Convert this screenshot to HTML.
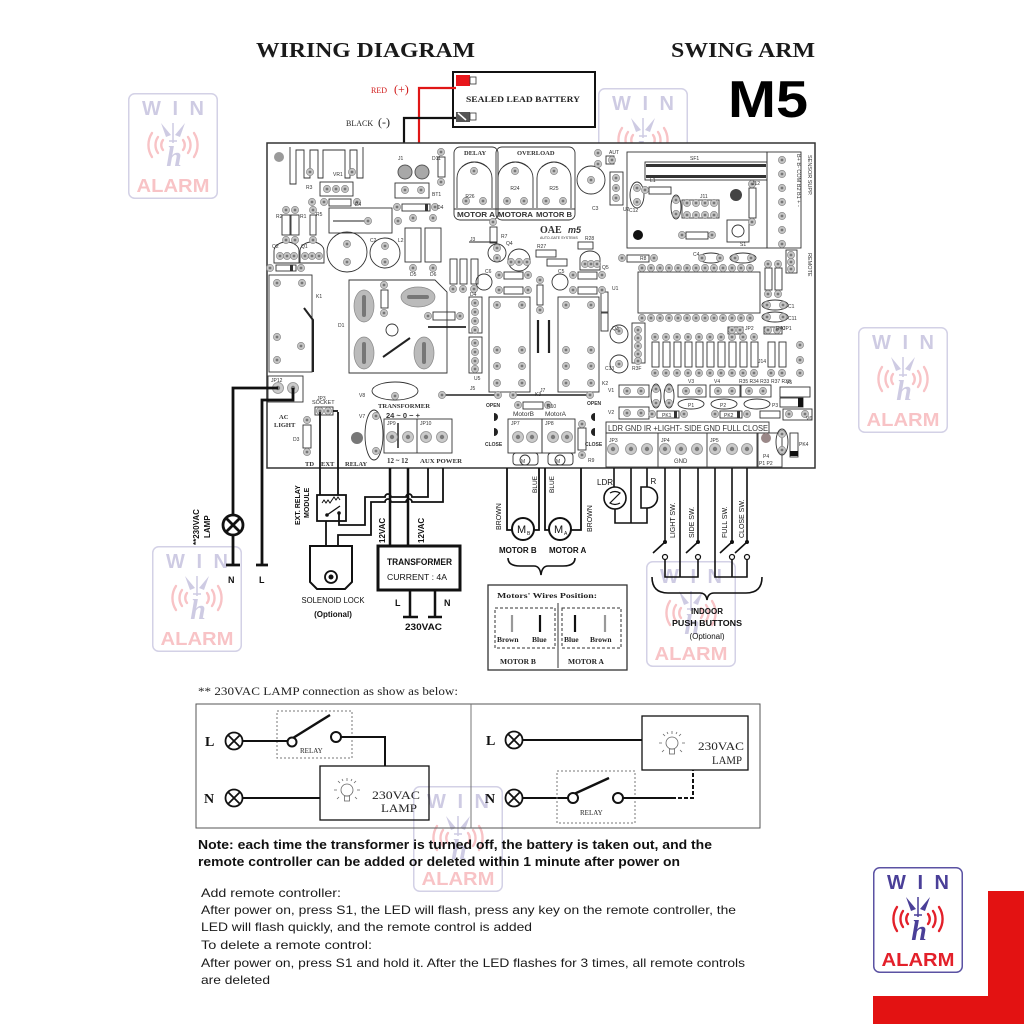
<!DOCTYPE html>
<html><head><meta charset="utf-8"><style>
html,body{margin:0;padding:0;background:#fff;}
svg{display:block;}
.t{font-family:"Liberation Sans",sans-serif;}
.s{font-family:"Liberation Serif",serif;}
</style></head><body>
<svg width="1024" height="1024" viewBox="0 0 1024 1024" xmlns="http://www.w3.org/2000/svg">
<defs>
 <g id="pad"><circle r="3.6" fill="#c6c6c6" stroke="#8a8a8a" stroke-width="0.7"/><circle r="1.4" fill="#777"/></g>
 <g id="bp"><circle r="5.5" fill="#cacaca" stroke="#909090" stroke-width="0.8"/><circle r="2.2" fill="#7a7a7a"/></g>
 <g id="logo">
  <rect x="0.75" y="0.75" width="88.5" height="104.5" rx="6" fill="#fff" stroke="#5b52a3" stroke-width="1.5"/>
  <text x="45" y="22" text-anchor="middle" font-family="Liberation Sans,sans-serif" font-weight="bold" font-size="20" fill="#4a3f98" textLength="62" lengthAdjust="spacing">WIN</text>
  <g fill="none" stroke="#e3202a" stroke-width="2.4" stroke-linecap="round">
   <path d="M24,40 A22,22 0 0 0 24,64"/><path d="M30,44 A14,14 0 0 0 30,60"/><path d="M35,47 A8,8 0 0 0 35,57"/>
   <path d="M66,40 A22,22 0 0 1 66,64"/><path d="M60,44 A14,14 0 0 1 60,60"/><path d="M55,47 A8,8 0 0 1 55,57"/>
  </g>
  <path d="M33,30 L43,42 L38,44 Z M57,30 L47,42 L52,44 Z" fill="#4a3f98"/>
  <path d="M45,30 L45,50 M41,48 L49,48" stroke="#4a3f98" stroke-width="1.5" fill="none"/>
  <text x="46" y="73" text-anchor="middle" font-family="Liberation Serif,serif" font-style="italic" font-weight="bold" font-size="28" fill="#4a3f98">h</text>
  <text x="45" y="99" text-anchor="middle" font-family="Liberation Sans,sans-serif" font-weight="bold" font-size="18" fill="#e3202a" textLength="73" lengthAdjust="spacingAndGlyphs">ALARM</text>
 </g>
 <g id="bulb" stroke="#666" stroke-width="0.8" fill="none">
  <circle cx="0" cy="-3" r="6"/><rect x="-2.5" y="3" width="5" height="5"/>
  <path d="M0,-12 V-15 M7,-10 L9,-12 M-7,-10 L-9,-12 M10,-3 H13 M-10,-3 H-13 M8,4 L10,6 M-8,4 L-10,6 M4,-12 L5,-14 M-4,-12 L-5,-14"/>
 </g>
 <g id="otimes" fill="none" stroke="#111" stroke-width="1.8">
  <circle r="8.5"/><path d="M-6,-6 L6,6 M6,-6 L-6,6"/>
 </g>
</defs>

<rect width="1024" height="1024" fill="#fff"/>

<!-- watermarks -->
<g opacity="0.27">
 <use href="#logo" x="128" y="93"/>
 <use href="#logo" x="598" y="88"/>
 <use href="#logo" x="858" y="327"/>
 <use href="#logo" x="152" y="546"/>
 <use href="#logo" x="646" y="561"/>
 <use href="#logo" x="413" y="786"/>
</g>

<!-- titles -->
<text x="256" y="57" class="s" font-weight="bold" font-size="21" fill="#1a1a1a" textLength="219" lengthAdjust="spacingAndGlyphs">WIRING DIAGRAM</text>
<text x="671" y="57" class="s" font-weight="bold" font-size="21" fill="#1a1a1a" textLength="144" lengthAdjust="spacingAndGlyphs">SWING ARM</text>
<text x="728" y="117" class="t" font-weight="bold" font-size="52" fill="#000" textLength="80" lengthAdjust="spacingAndGlyphs">M5</text>

<!-- battery -->
<rect x="453" y="72" width="142" height="55" fill="#fff" stroke="#111" stroke-width="2"/>
<rect x="456" y="75" width="14" height="11" fill="#e8161b"/>
<rect x="470" y="77" width="6" height="7" fill="none" stroke="#333" stroke-width="0.8"/>
<text x="466" y="102" class="s" font-weight="bold" font-size="8" fill="#222" textLength="114" lengthAdjust="spacingAndGlyphs">SEALED LEAD BATTERY</text>
<rect x="456" y="112" width="14" height="10" fill="#555"/>
<path d="M458,113 L466,120" stroke="#fff" stroke-width="1.5"/>
<rect x="470" y="113" width="6" height="7" fill="none" stroke="#333" stroke-width="0.8"/>
<text x="371" y="93" class="s" font-size="8" fill="#d01818">RED</text>
<text x="394" y="93" class="s" font-size="12" fill="#d01818">(+)</text>
<text x="346" y="126" class="s" font-size="8" fill="#222">BLACK</text>
<text x="378" y="126" class="s" font-size="12" fill="#222">(-)</text>
<path d="M456,88 H419 V166" fill="none" stroke="#e01616" stroke-width="2.2"/>
<path d="M456,118 H404 V166" fill="none" stroke="#111" stroke-width="2.2"/>

<!-- PCB -->
<rect x="267" y="143" width="548" height="325" fill="#fff" stroke="#333" stroke-width="1.5"/>
<g stroke="#333" stroke-width="0.9" fill="none">
 <!-- heatsink -->
 <path d="M290,147 V184 H296 V150 H304 V178 H310 V150 H318 V178 H323 V150 H345 V178 H350 V150 H357 V178 H363 V147"/>
 <rect x="320" y="182" width="33" height="14"/>
 <rect x="329" y="199" width="22" height="7"/>
 <rect x="282" y="215" width="8" height="20"/><rect x="291" y="215" width="8" height="20"/>
 <rect x="310" y="215" width="6" height="20"/>
 <rect x="329" y="208" width="63" height="25"/>
 <rect x="395" y="183" width="34" height="15"/>
 <rect x="438" y="157" width="7" height="20"/>
 <rect x="402" y="204" width="28" height="7"/>
 <rect x="405" y="228" width="16" height="34"/><rect x="425" y="228" width="16" height="34"/>
 <path d="M274,263 V251 A12.5,9 0 0 1 299,251 V263 Z"/>
 <path d="M300,263 V251 A12,9 0 0 1 324,251 V263 Z"/>
 <rect x="276" y="265" width="20" height="6"/>
 <circle cx="347" cy="252" r="20"/>
 <circle cx="385" cy="253" r="15"/>
 <rect x="269" y="275" width="43" height="97"/>
 <rect x="268" y="376" width="35" height="26"/>
 <path d="M349,280 H435 L447,292 V373 H349 Z"/>
 <rect x="381" y="290" width="7" height="18"/>
 <circle cx="392" cy="330" r="6"/>
 <rect x="433" y="312" width="22" height="8"/>
 <rect x="469" y="297" width="13" height="36"/><rect x="469" y="337" width="13" height="36"/>
 <rect x="489" y="297" width="41" height="95"/>
 <rect x="558" y="297" width="41" height="95"/>
 <circle cx="497" cy="253" r="9"/>
 <rect x="490" y="227" width="7" height="16"/>
 <rect x="450" y="259" width="7" height="25"/><rect x="460" y="259" width="7" height="25"/><rect x="471" y="259" width="7" height="25"/>
 <circle cx="519" cy="260" r="11"/>
 <rect x="536" y="250" width="20" height="7"/><rect x="547" y="259" width="20" height="7"/><rect x="578" y="242" width="15" height="7"/>
 <path d="M580,270 V259 A10,8 0 0 1 600,259 V270 Z"/>
 <circle cx="484" cy="282" r="8"/><circle cx="560" cy="282" r="8"/>
 <rect x="504" y="272" width="19" height="7"/><rect x="504" y="287" width="19" height="7"/>
 <rect x="578" y="272" width="19" height="7"/><rect x="578" y="287" width="19" height="7"/>
 <rect x="537" y="285" width="6" height="20"/>
 <rect x="601" y="292" width="7" height="20"/><rect x="601" y="313" width="7" height="18"/>
 <circle cx="619" cy="334" r="9"/><circle cx="619" cy="364" r="9"/>
 <rect x="632" y="323" width="13" height="40"/>
 <rect x="638" y="272" width="122" height="41"/>
 <rect x="627" y="255" width="22" height="7"/>
 <ellipse cx="711" cy="258" rx="12" ry="5"/><ellipse cx="743" cy="258" rx="13" ry="5"/>
 <rect x="627" y="152" width="140" height="96"/>
 <rect x="645" y="162" width="122" height="18"/>
 <rect x="649" y="187" width="22" height="7"/>
 <ellipse cx="676" cy="207" rx="5" ry="12"/>
 <rect x="682" y="200" width="37" height="18"/>
 <rect x="749" y="188" width="7" height="30"/>
 <rect x="727" y="220" width="22" height="22"/><circle cx="738" cy="231" r="6"/>
 <rect x="686" y="232" width="22" height="7"/>
 <rect x="767" y="152" width="34" height="96"/>
 <rect x="786" y="250" width="11" height="23"/>
 <rect x="765" y="268" width="7" height="22"/><rect x="775" y="268" width="7" height="22"/>
 <ellipse cx="775" cy="305" rx="13" ry="5"/><ellipse cx="775" cy="317" rx="13" ry="5"/>
 <rect x="728" y="327" width="15" height="7"/><rect x="764" y="327" width="18" height="7"/>
 <circle cx="591" cy="180" r="14"/>
 <rect x="606" y="156" width="8" height="8"/>
 <rect x="610" y="172" width="13" height="33"/>
 <ellipse cx="637" cy="195" rx="7" ry="13"/>
 <!-- DELAY / OVERLOAD -->
 <rect x="454" y="147" width="44" height="73" rx="6"/>
 <rect x="496" y="147" width="79" height="73" rx="6"/>
 <path d="M457,208 V178 A17.5,16 0 0 1 492,178 V208"/>
 <path d="M498,208 V178 A17.5,16 0 0 1 533,178 V208"/>
 <path d="M537,208 V178 A17,16 0 0 1 571,178 V208"/>
 <path d="M462,167 Q474,157 487,167 M503,167 Q515,157 528,167 M542,167 Q554,157 566,167"/>
 <path d="M454,209 H575"/>
 <!-- bottom area -->
 <ellipse cx="395" cy="391" rx="23" ry="9"/>
 <ellipse cx="374" cy="435" rx="9" ry="25"/>
 <rect x="303" y="425" width="8" height="23"/>
 <rect x="315" y="407" width="18" height="8"/>
 <rect x="384" y="419" width="68" height="34"/><path d="M417,419 V453"/>
 <rect x="523" y="402" width="20" height="7"/>
 <rect x="508" y="419" width="34" height="34"/><rect x="542" y="419" width="33" height="34"/>
 <rect x="513" y="453" width="25" height="12" rx="3"/><rect x="548" y="453" width="25" height="12" rx="3"/>
 <circle cx="525" cy="460" r="5"/><circle cx="560" cy="460" r="5"/>
 <rect x="578" y="428" width="8" height="22"/>
 <rect x="619" y="385" width="30" height="12"/><rect x="619" y="407" width="30" height="12"/>
 <ellipse cx="656" cy="396" rx="5" ry="12"/><ellipse cx="669" cy="396" rx="5" ry="12"/>
 <rect x="678" y="385" width="28" height="12"/><rect x="710" y="385" width="30" height="12"/><rect x="741" y="385" width="30" height="12"/>
 <ellipse cx="691" cy="404" rx="13" ry="5"/><ellipse cx="724" cy="404" rx="13" ry="5"/><ellipse cx="757" cy="404" rx="13" ry="5"/>
 <rect x="657" y="411" width="22" height="7"/><rect x="720" y="411" width="22" height="7"/><rect x="760" y="411" width="20" height="7"/>
 <rect x="780" y="387" width="30" height="10"/><rect x="780" y="398" width="23" height="9"/><rect x="783" y="409" width="29" height="11"/>
 <rect x="606" y="422" width="163" height="11"/>
 <rect x="606" y="433" width="152" height="34"/><path d="M658,433 V467 M707,433 V467"/>
 <rect x="757" y="433" width="25" height="34"/>
 <ellipse cx="782" cy="442" rx="6" ry="13"/>
 <rect x="790" y="433" width="8" height="24"/>
 <rect x="275" y="233" width="12" height="0"/>
</g>
<!-- fills / dark bits on PCB -->
<g fill="#333">
 <circle cx="279" cy="157" r="5" fill="#9a9a9a"/>
 <circle cx="405" cy="172" r="7" fill="#a8a8a8" stroke="#555"/>
 <circle cx="422" cy="172" r="7" fill="#a8a8a8" stroke="#555"/>
 <rect x="425" y="204" width="3" height="7"/>
 <rect x="290" y="265" width="3" height="6"/>
 <circle cx="736" cy="195" r="6" fill="#444"/>
 <circle cx="638" cy="235" r="5" fill="#111"/>
 <circle cx="357" cy="438" r="6" fill="#777"/>
 <circle cx="766" cy="438" r="5" fill="#9a8888"/>
 <rect x="790" y="451" width="8" height="5" fill="#111"/>
 <rect x="798" y="398" width="5" height="9" fill="#111"/>
 <rect x="674" y="411" width="3" height="7"/><rect x="737" y="411" width="3" height="7"/>
 <rect x="646" y="164" width="120" height="3"/><rect x="646" y="175" width="120" height="3"/>
</g>
<g fill="#bbb" stroke="#888" stroke-width="0.7">
 <ellipse cx="364" cy="306" rx="10" ry="16"/><ellipse cx="418" cy="297" rx="17" ry="10"/>
 <ellipse cx="364" cy="353" rx="10" ry="16"/><ellipse cx="424" cy="353" rx="10" ry="16"/>
</g>
<g fill="#777">
 <rect x="362" y="295" width="4" height="22" rx="2"/><rect x="407" y="295" width="22" height="4" rx="2"/>
 <rect x="362" y="342" width="4" height="22" rx="2"/><rect x="422" y="342" width="4" height="22" rx="2"/>
</g>
<g stroke="#222" fill="none">
 <path d="M304,308 L313,320 V372" stroke-width="2"/>
 <path d="M383,357 L410,338" stroke-width="2"/>
 <path d="M428,327 H466" stroke-width="1.8"/>
 <path d="M538,320 V353 M549,320 V353" stroke-width="2.2"/>
 <path d="M442,395 H498 M513,395 H590" stroke-width="1.5"/>
 <path d="M398,423 V448" stroke-width="1.5"/>
 <path d="M333,221 H368" stroke-width="1"/>
 <path d="M469,242 H497" stroke-width="1"/>
</g>
<!-- pads -->
<g>
 <use href="#pad" x="327" y="189"/><use href="#pad" x="336" y="189"/><use href="#pad" x="345" y="189"/>
 <use href="#pad" x="310" y="172"/><use href="#pad" x="352" y="172"/>
 <use href="#pad" x="405" y="190"/><use href="#pad" x="421" y="190"/>
 <use href="#pad" x="441" y="152"/><use href="#pad" x="441" y="182"/>
 <use href="#pad" x="312" y="202"/><use href="#pad" x="324" y="202"/><use href="#pad" x="357" y="202"/>
 <use href="#pad" x="397" y="207"/><use href="#pad" x="435" y="207"/>
 <use href="#pad" x="286" y="210"/><use href="#pad" x="295" y="210"/><use href="#pad" x="286" y="240"/><use href="#pad" x="295" y="240"/>
 <use href="#pad" x="313" y="210"/><use href="#pad" x="313" y="240"/>
 <use href="#pad" x="368" y="221"/><use href="#pad" x="398" y="221"/>
 <use href="#pad" x="413" y="218"/><use href="#pad" x="433" y="218"/><use href="#pad" x="413" y="268"/><use href="#pad" x="433" y="268"/>
 <use href="#pad" x="280" y="256"/><use href="#pad" x="287" y="256"/><use href="#pad" x="294" y="256"/>
 <use href="#pad" x="305" y="256"/><use href="#pad" x="312" y="256"/><use href="#pad" x="319" y="256"/>
 <use href="#pad" x="270" y="268"/><use href="#pad" x="301" y="268"/>
 <use href="#pad" x="347" y="244"/><use href="#pad" x="347" y="262"/><use href="#pad" x="385" y="246"/><use href="#pad" x="385" y="262"/>
 <use href="#pad" x="277" y="283"/><use href="#pad" x="302" y="283"/><use href="#pad" x="277" y="337"/><use href="#pad" x="277" y="360"/><use href="#pad" x="301" y="346"/>
 <use href="#bp" x="278" y="388"/><use href="#bp" x="293" y="388"/>
 <use href="#pad" x="384" y="285"/><use href="#pad" x="384" y="313"/><use href="#pad" x="428" y="316"/><use href="#pad" x="460" y="316"/>
 <use href="#pad" x="475" y="303"/><use href="#pad" x="475" y="312"/><use href="#pad" x="475" y="321"/><use href="#pad" x="475" y="330"/>
 <use href="#pad" x="475" y="343"/><use href="#pad" x="475" y="352"/><use href="#pad" x="475" y="361"/><use href="#pad" x="475" y="369"/>
 <use href="#pad" x="497" y="305"/><use href="#pad" x="522" y="305"/><use href="#pad" x="497" y="350"/><use href="#pad" x="522" y="350"/>
 <use href="#pad" x="497" y="366"/><use href="#pad" x="522" y="366"/><use href="#pad" x="497" y="383"/><use href="#pad" x="522" y="383"/>
 <use href="#pad" x="566" y="305"/><use href="#pad" x="591" y="305"/><use href="#pad" x="566" y="350"/><use href="#pad" x="591" y="350"/>
 <use href="#pad" x="566" y="366"/><use href="#pad" x="591" y="366"/><use href="#pad" x="566" y="383"/><use href="#pad" x="591" y="383"/>
 <use href="#pad" x="497" y="248"/><use href="#pad" x="497" y="258"/><use href="#pad" x="493" y="222"/>
 <use href="#pad" x="453" y="289"/><use href="#pad" x="463" y="289"/><use href="#pad" x="474" y="289"/>
 <use href="#pad" x="511" y="262"/><use href="#pad" x="519" y="262"/><use href="#pad" x="527" y="262"/>
 <use href="#pad" x="585" y="264"/><use href="#pad" x="591" y="264"/><use href="#pad" x="597" y="264"/>
 <use href="#pad" x="499" y="275"/><use href="#pad" x="528" y="275"/><use href="#pad" x="499" y="290"/><use href="#pad" x="528" y="290"/>
 <use href="#pad" x="573" y="275"/><use href="#pad" x="602" y="275"/><use href="#pad" x="573" y="290"/><use href="#pad" x="602" y="290"/>
 <use href="#pad" x="540" y="280"/><use href="#pad" x="540" y="310"/>
 <use href="#pad" x="619" y="331"/><use href="#pad" x="619" y="364"/><use href="#pad" x="591" y="180"/>
 <use href="#pad" x="638" y="330"/><use href="#pad" x="638" y="338"/><use href="#pad" x="638" y="346"/><use href="#pad" x="638" y="354"/><use href="#pad" x="638" y="361"/>
 <use href="#pad" x="622" y="258"/><use href="#pad" x="654" y="258"/><use href="#pad" x="702" y="258"/><use href="#pad" x="720" y="258"/><use href="#pad" x="735" y="258"/><use href="#pad" x="751" y="258"/>
 <use href="#pad" x="645" y="190"/><use href="#pad" x="676" y="200"/><use href="#pad" x="676" y="214"/>
 <use href="#pad" x="752" y="184"/><use href="#pad" x="752" y="222"/><use href="#pad" x="682" y="235"/><use href="#pad" x="712" y="235"/>
 <use href="#pad" x="782" y="160"/><use href="#pad" x="782" y="174"/><use href="#pad" x="782" y="188"/><use href="#pad" x="782" y="202"/>
 <use href="#pad" x="782" y="216"/><use href="#pad" x="782" y="230"/><use href="#pad" x="782" y="244"/>
 <use href="#pad" x="791" y="255"/><use href="#pad" x="791" y="262"/><use href="#pad" x="791" y="269"/>
 <use href="#pad" x="768" y="264"/><use href="#pad" x="778" y="264"/><use href="#pad" x="768" y="294"/><use href="#pad" x="778" y="294"/>
 <use href="#pad" x="767" y="305"/><use href="#pad" x="783" y="305"/><use href="#pad" x="767" y="317"/><use href="#pad" x="783" y="317"/>
 <use href="#pad" x="732" y="330"/><use href="#pad" x="740" y="330"/><use href="#pad" x="768" y="330"/><use href="#pad" x="777" y="330"/>
 <use href="#pad" x="612" y="160"/><use href="#pad" x="616" y="178"/><use href="#pad" x="616" y="188"/><use href="#pad" x="616" y="198"/>
 <use href="#pad" x="637" y="188"/><use href="#pad" x="637" y="202"/><use href="#pad" x="598" y="153"/><use href="#pad" x="598" y="164"/>
 <use href="#pad" x="466" y="201"/><use href="#pad" x="483" y="201"/><use href="#pad" x="474" y="171"/>
 <use href="#pad" x="507" y="201"/><use href="#pad" x="524" y="201"/><use href="#pad" x="515" y="171"/>
 <use href="#pad" x="546" y="201"/><use href="#pad" x="563" y="201"/><use href="#pad" x="554" y="171"/>
 <use href="#pad" x="395" y="396"/><use href="#pad" x="376" y="416"/><use href="#pad" x="376" y="451"/>
 <use href="#pad" x="307" y="420"/><use href="#pad" x="307" y="452"/><use href="#pad" x="320" y="411"/><use href="#pad" x="328" y="411"/>
 <use href="#bp" x="392" y="437"/><use href="#bp" x="408" y="437"/><use href="#bp" x="426" y="437"/><use href="#bp" x="442" y="437"/>
 <use href="#pad" x="442" y="395"/><use href="#pad" x="498" y="395"/><use href="#pad" x="513" y="395"/><use href="#pad" x="590" y="395"/>
 <use href="#pad" x="518" y="405"/><use href="#pad" x="548" y="405"/>
 <use href="#bp" x="518" y="437"/><use href="#bp" x="532" y="437"/><use href="#bp" x="553" y="437"/><use href="#bp" x="567" y="437"/>
 <use href="#pad" x="582" y="424"/><use href="#pad" x="582" y="455"/>
 <use href="#pad" x="627" y="391"/><use href="#pad" x="641" y="391"/><use href="#pad" x="627" y="413"/><use href="#pad" x="641" y="413"/>
 <use href="#pad" x="656" y="389"/><use href="#pad" x="656" y="403"/><use href="#pad" x="669" y="389"/><use href="#pad" x="669" y="403"/>
 <use href="#pad" x="686" y="391"/><use href="#pad" x="699" y="391"/><use href="#pad" x="718" y="391"/><use href="#pad" x="732" y="391"/>
 <use href="#pad" x="749" y="391"/><use href="#pad" x="763" y="391"/><use href="#pad" x="789" y="414"/><use href="#pad" x="805" y="414"/>
 <use href="#pad" x="652" y="414"/><use href="#pad" x="684" y="414"/><use href="#pad" x="715" y="414"/><use href="#pad" x="747" y="414"/>
 <use href="#bp" x="613" y="449"/><use href="#bp" x="631" y="449"/><use href="#bp" x="647" y="449"/>
 <use href="#bp" x="665" y="449"/><use href="#bp" x="681" y="449"/><use href="#bp" x="697" y="449"/>
 <use href="#bp" x="715" y="449"/><use href="#bp" x="732" y="449"/><use href="#bp" x="747" y="449"/>
 <use href="#pad" x="782" y="434"/><use href="#pad" x="782" y="450"/>
</g>
<!-- IC pin rows and resistor row -->
<g>
 <use href="#pad" x="642" y="268"/><use href="#pad" x="651" y="268"/><use href="#pad" x="660" y="268"/><use href="#pad" x="669" y="268"/><use href="#pad" x="678" y="268"/><use href="#pad" x="687" y="268"/><use href="#pad" x="696" y="268"/><use href="#pad" x="705" y="268"/><use href="#pad" x="714" y="268"/><use href="#pad" x="723" y="268"/><use href="#pad" x="732" y="268"/><use href="#pad" x="741" y="268"/><use href="#pad" x="750" y="268"/>
 <use href="#pad" x="642" y="318"/><use href="#pad" x="651" y="318"/><use href="#pad" x="660" y="318"/><use href="#pad" x="669" y="318"/><use href="#pad" x="678" y="318"/><use href="#pad" x="687" y="318"/><use href="#pad" x="696" y="318"/><use href="#pad" x="705" y="318"/><use href="#pad" x="714" y="318"/><use href="#pad" x="723" y="318"/><use href="#pad" x="732" y="318"/><use href="#pad" x="741" y="318"/><use href="#pad" x="750" y="318"/>
 <use href="#pad" x="687" y="203"/><use href="#pad" x="696" y="203"/><use href="#pad" x="705" y="203"/><use href="#pad" x="714" y="203"/>
 <use href="#pad" x="687" y="215"/><use href="#pad" x="696" y="215"/><use href="#pad" x="705" y="215"/><use href="#pad" x="714" y="215"/>
</g>
<g stroke="#333" stroke-width="0.9" fill="#fff">
 <rect x="652" y="342" width="7" height="25"/><rect x="663" y="342" width="7" height="25"/><rect x="674" y="342" width="7" height="25"/><rect x="685" y="342" width="7" height="25"/><rect x="696" y="342" width="7" height="25"/><rect x="707" y="342" width="7" height="25"/><rect x="718" y="342" width="7" height="25"/><rect x="729" y="342" width="7" height="25"/><rect x="740" y="342" width="7" height="25"/><rect x="751" y="342" width="7" height="25"/>
 <rect x="768" y="342" width="7" height="25"/><rect x="779" y="342" width="7" height="25"/>
</g>
<g>
 <use href="#pad" x="655" y="337"/><use href="#pad" x="666" y="337"/><use href="#pad" x="677" y="337"/><use href="#pad" x="688" y="337"/><use href="#pad" x="699" y="337"/><use href="#pad" x="710" y="337"/><use href="#pad" x="721" y="337"/><use href="#pad" x="732" y="337"/><use href="#pad" x="743" y="337"/><use href="#pad" x="754" y="337"/>
 <use href="#pad" x="655" y="373"/><use href="#pad" x="666" y="373"/><use href="#pad" x="677" y="373"/><use href="#pad" x="688" y="373"/><use href="#pad" x="699" y="373"/><use href="#pad" x="710" y="373"/><use href="#pad" x="721" y="373"/><use href="#pad" x="732" y="373"/><use href="#pad" x="743" y="373"/><use href="#pad" x="754" y="373"/>
 <use href="#pad" x="771" y="373"/><use href="#pad" x="782" y="373"/><use href="#pad" x="800" y="345"/><use href="#pad" x="800" y="360"/><use href="#pad" x="800" y="373"/>
</g>
<!-- PCB labels -->
<g class="t" fill="#333" font-size="5">
 <text x="333" y="176">VR1</text><text x="398" y="160">J1</text><text x="432" y="160">D11</text><text x="432" y="196">BT1</text><text x="437" y="209">D4</text>
 <text x="306" y="189">R3</text><text x="355" y="206">P4</text><text x="276" y="218">R2</text><text x="300" y="218">R1</text><text x="316" y="216">R5</text>
 <text x="272" y="248">Q2</text><text x="301" y="248">Q1</text><text x="370" y="242">C2</text><text x="398" y="242">L2</text>
 <text x="316" y="298">K1</text><text x="338" y="327">D1</text><text x="410" y="276">D5</text><text x="430" y="276">D6</text>
 <text x="470" y="198" text-anchor="middle">R26</text><text x="515" y="190" text-anchor="middle">R24</text><text x="554" y="190" text-anchor="middle">R25</text>
 <text x="592" y="210">C3</text><text x="609" y="154">AUT</text><text x="623" y="211">U2</text><text x="629" y="212">C12</text>
 <text x="690" y="160">SF1</text><text x="700" y="198">J11</text><text x="752" y="185">J12</text><text x="740" y="246">S1</text><text x="650" y="182">L1</text>
 <text x="501" y="238">R7</text><text x="470" y="241">J3</text><text x="506" y="245">Q4</text><text x="537" y="248">R27</text><text x="585" y="240">R28</text>
 <text x="602" y="269">Q5</text><text x="485" y="273">C6</text><text x="558" y="273">C5</text><text x="612" y="290">U1</text>
 <text x="535" y="396">K3</text><text x="602" y="385">K2</text><text x="470" y="296">D4</text><text x="474" y="380">U5</text>
 <text x="470" y="390">J5</text><text x="540" y="392">J7</text><text x="640" y="260">R8</text><text x="693" y="256">C4</text>
 <text x="776" y="330">R40</text><text x="788" y="308">C1</text><text x="788" y="320">C11</text><text x="745" y="330">JP2</text><text x="783" y="330">JP1</text>
 <text x="612" y="330">Q3</text><text x="605" y="370">C13</text><text x="632" y="370">R3F</text><text x="758" y="363">J14</text>
 <text x="608" y="392">V1</text><text x="608" y="414">V2</text><text x="688" y="383">V3</text><text x="714" y="383">V4</text><text x="739" y="383">R35 R34 R33</text><text x="771" y="383">R37 R38</text>
 <text x="688" y="407">P1</text><text x="720" y="407">P2</text><text x="772" y="407">P3</text><text x="662" y="417">PK1</text><text x="724" y="417">PK2</text><text x="786" y="384">V5</text><text x="806" y="420">V6</text>
 <text x="609" y="442">JP3</text><text x="661" y="442">JP4</text><text x="710" y="442">JP5</text><text x="763" y="458">P4</text><text x="759" y="465">P1 P2</text><text x="799" y="446">PK4</text>
 <text x="271" y="382">JP12</text><text x="317" y="400">JP3</text><text x="293" y="441">D3</text><text x="359" y="397">V8</text><text x="359" y="418">V7</text>
 <text x="387" y="425">JP9</text><text x="420" y="425">JP10</text><text x="511" y="425">JP7</text><text x="545" y="425">JP8</text><text x="588" y="462">R9</text><text x="547" y="408">R10</text>
</g>
<g class="t" fill="#333">
 <text x="464" y="155" font-size="6.5" font-weight="bold" class="s">DELAY</text>
 <text x="517" y="155" font-size="6.5" font-weight="bold" class="s">OVERLOAD</text>
 <text x="457" y="217" font-size="7.5" font-weight="bold" textLength="38" lengthAdjust="spacingAndGlyphs">MOTOR A</text>
 <text x="498" y="217" font-size="7.5" font-weight="bold" textLength="35" lengthAdjust="spacingAndGlyphs">MOTORA</text>
 <text x="536" y="217" font-size="7.5" font-weight="bold" textLength="36" lengthAdjust="spacingAndGlyphs">MOTOR B</text>
 <text x="540" y="233" font-size="10" font-weight="bold" class="s">OAE</text>
 <text x="568" y="233" font-size="9" font-weight="bold" font-style="italic">m5</text>
 <text x="540" y="239" font-size="3.5">AUTO-GATE SYSTEMS</text>
 <text x="312" y="404" font-size="5.5">SOCKET</text>
 <text x="279" y="419" font-size="6.5" font-weight="bold" class="s">AC</text>
 <text x="274" y="427" font-size="6.5" font-weight="bold" class="s">LIGHT</text>
 <text x="305" y="466" font-size="6.5" font-weight="bold" class="s">TD</text>
 <text x="321" y="466" font-size="6.5" font-weight="bold" class="s">EXT</text>
 <text x="345" y="466" font-size="6.5" font-weight="bold" class="s">RELAY</text>
 <text x="378" y="408" font-size="6" font-weight="bold" class="s" textLength="52" lengthAdjust="spacingAndGlyphs">TRANSFORMER</text>
 <text x="386" y="418" font-size="7.5" font-weight="bold">24 ~ 0  −    +</text>
 <text x="387" y="463" font-size="7" font-weight="bold" class="s">12 ~ 12</text>
 <text x="420" y="463" font-size="6.5" font-weight="bold" class="s" textLength="42" lengthAdjust="spacingAndGlyphs">AUX POWER</text>
 <text x="486" y="407" font-size="5" font-weight="bold">OPEN</text><text x="485" y="446" font-size="5" font-weight="bold">CLOSE</text>
 <text x="587" y="405" font-size="5" font-weight="bold">OPEN</text><text x="585" y="446" font-size="5" font-weight="bold">CLOSE</text>
 <text x="513" y="416" font-size="6.5">MotorB</text><text x="545" y="416" font-size="6.5">MotorA</text>
 <text x="608" y="431" font-size="8" textLength="160" lengthAdjust="spacingAndGlyphs">LDR GND IR +LIGHT- SIDE GND FULL CLOSE</text>
 <text x="674" y="463" font-size="6">GND</text>
 <text x="521" y="463" font-size="5">M</text><text x="556" y="463" font-size="5">M</text>
</g>
<g fill="#222">
 <path d="M494,413 a4,4 0 0 1 0,8 Z"/><path d="M494,428 a4,4 0 0 1 0,8 Z"/>
 <path d="M595,413 a4,4 0 0 0 0,8 Z"/><path d="M595,428 a4,4 0 0 0 0,8 Z"/>
</g>
<g class="t" font-size="5.5" fill="#333">
 <text transform="translate(797,154) rotate(90)">B+ B- COM B2 B1 + -</text>
 <text transform="translate(808,155) rotate(90)">SENSOR SUPP.</text>
 <text transform="translate(808,253) rotate(90)">REMOTE</text>
</g>

<!-- Lamp wiring left -->
<g fill="none" stroke="#111" stroke-width="2.8">
 <path d="M278,388 H233 V516"/>
 <path d="M233,534 V565 M226,565 H240"/>
 <path d="M293,388 V400 H262 V565 M256,565 H268"/>
</g>
<circle cx="233" cy="525" r="10" fill="#fff" stroke="#111" stroke-width="2.8"/>
<path d="M226,518 L240,532 M240,518 L226,532" stroke="#111" stroke-width="2.8"/>
<g class="t" font-weight="bold" font-size="9" fill="#111">
 <text x="228" y="583">N</text><text x="259" y="583">L</text>
 <text transform="translate(199,545) rotate(-90)" font-size="8">**230VAC</text>
 <text transform="translate(210,538) rotate(-90)" font-size="8">LAMP</text>
</g>

<!-- EXT relay / solenoid -->
<g fill="none" stroke="#111" stroke-width="1.8">
 <path d="M320,412 V495 M338,412 V495 M333,411 H338"/>
 <rect x="317" y="495" width="29" height="26"/>
 <path d="M326,521 V546"/>
 <path d="M339,513 V525 H365 V497 H385 a3,3 0 0 1 6,0 H406 a3,3 0 0 1 6,0 H428 V468"/>
 <path d="M338,546 V535 H371 V502 H385 a3,3 0 0 1 6,0 H406 a3,3 0 0 1 6,0 H443 V468"/>
 <path d="M310,546 H352 V582 L345,589 H317 L310,582 Z" stroke-width="2"/>
 <path d="M390,468 V546 M408,468 V546" stroke-width="2.5"/>
 <rect x="378" y="546" width="82" height="44" stroke-width="3"/>
 <path d="M410,590 V617 M403,617 H418 M435,590 V617 M428,617 H442" stroke-width="2.5"/>
</g>
<path d="M322,503 l2,-3 2,3 2,-3 2,3 2,-3 2,-3 2,3 2,-3 2,3" fill="none" stroke="#111" stroke-width="1"/>
<path d="M327,515 L340,506" stroke="#111" stroke-width="1.3"/>
<circle cx="327" cy="515" r="1.8" fill="#111"/><circle cx="339" cy="513" r="1.8" fill="#111"/>
<circle cx="331" cy="577" r="6" fill="#fff" stroke="#111" stroke-width="1.8"/><circle cx="331" cy="577" r="2.5" fill="#111"/>
<g class="t" fill="#111">
 <text x="333" y="603" text-anchor="middle" font-size="8" textLength="63" lengthAdjust="spacingAndGlyphs">SOLENOID LOCK</text>
 <text x="333" y="617" text-anchor="middle" font-size="8" font-weight="bold">(Optional)</text>
 <text transform="translate(300,525) rotate(-90)" font-size="7" font-weight="bold">EXT. RELAY</text>
 <text transform="translate(309,518) rotate(-90)" font-size="7" font-weight="bold">MODULE</text>
 <text transform="translate(385,543) rotate(-90)" font-size="8" font-weight="bold">12VAC</text>
 <text transform="translate(424,543) rotate(-90)" font-size="8" font-weight="bold">12VAC</text>
 <text x="387" y="565" font-size="9.5" font-weight="bold" textLength="65" lengthAdjust="spacingAndGlyphs">TRANSFORMER</text>
 <text x="387" y="580" font-size="8" textLength="60" lengthAdjust="spacingAndGlyphs">CURRENT : 4A</text>
 <text x="395" y="606" font-size="9" font-weight="bold">L</text>
 <text x="444" y="606" font-size="9" font-weight="bold">N</text>
 <text x="405" y="630" font-size="9" font-weight="bold" textLength="37" lengthAdjust="spacingAndGlyphs">230VAC</text>
</g>

<!-- Motors -->
<g fill="none" stroke="#111" stroke-width="1.8">
 <path d="M507,468 V530 H512"/>
 <path d="M539,468 V530 H534"/>
 <path d="M545,468 V530 H549"/>
 <path d="M581,468 V530 H571"/>
 <circle cx="523" cy="529" r="11" stroke-width="2"/>
 <circle cx="560" cy="529" r="11" stroke-width="2"/>
 <path d="M508,558 Q508,566 520,566 H534 Q540,566 541,575 Q542,566 548,566 H563 Q575,566 575,558" stroke-width="1.6"/>
</g>
<g class="t" fill="#111">
 <text x="517" y="533" font-size="11">M</text><text x="527" y="535" font-size="5">B</text>
 <text x="554" y="533" font-size="11">M</text><text x="564" y="535" font-size="5">A</text>
 <text transform="translate(501,530) rotate(-90)" font-size="7">BROWN</text>
 <text transform="translate(592,532) rotate(-90)" font-size="7">BROWN</text>
 <text transform="translate(537,493) rotate(-90)" font-size="6.5">BLUE</text>
 <text transform="translate(554,493) rotate(-90)" font-size="6.5">BLUE</text>
 <text x="499" y="553" font-size="8" font-weight="bold">MOTOR B</text>
 <text x="549" y="553" font-size="8" font-weight="bold">MOTOR A</text>
</g>
<rect x="488" y="585" width="139" height="85" fill="none" stroke="#333" stroke-width="1.3"/>
<path d="M558,603 V668" stroke="#333" stroke-width="1"/>
<rect x="495" y="608" width="60" height="40" fill="none" stroke="#333" stroke-width="1" stroke-dasharray="3,2"/>
<rect x="562" y="608" width="59" height="40" fill="none" stroke="#333" stroke-width="1" stroke-dasharray="3,2"/>
<g stroke-width="2.2">
 <path d="M512,615 V632" stroke="#999"/><path d="M540,615 V632" stroke="#111"/>
 <path d="M575,615 V632" stroke="#111"/><path d="M605,615 V632" stroke="#999"/>
</g>
<g class="s" fill="#222" font-weight="bold">
 <text x="497" y="598" font-size="7.5" textLength="100" lengthAdjust="spacingAndGlyphs">Motors' Wires Position:</text>
 <text x="497" y="642" font-size="7.5">Brown</text><text x="532" y="642" font-size="7.5">Blue</text>
 <text x="564" y="642" font-size="7.5">Blue</text><text x="590" y="642" font-size="7.5">Brown</text>
 <text x="500" y="664" font-size="7.5">MOTOR B</text><text x="568" y="664" font-size="7.5">MOTOR A</text>
</g>

<!-- LDR / IR / switches -->
<g fill="none" stroke="#111" stroke-width="1.6">
 <path d="M614,468 V487"/>
 <circle cx="615" cy="498" r="11"/>
 <path d="M610,493 Q615,490 620,493 Q615,498 610,503 Q615,506 620,503" stroke-width="1.2"/>
 <path d="M615,509 V523 H647 V508 M631,468 V523 M647,468 V487"/>
 <path d="M641,487 H647 A10,10 0 0 1 647,508 H641 Z"/>
 <path d="M665,468 V542 M665,557 V577 H698 V557 M698,468 V542 M680,468 V577"/>
 <path d="M715,468 V577 H747 V557 M732,468 V542 M732,557 V577 M747,468 V542"/>
 <path d="M653,553 L665,542 M686,553 L698,542 M720,553 L732,542 M735,553 L747,542"/>
 <path d="M652,577 Q652,593 668,593 H700 Q706,593 707,600 Q708,593 714,593 H746 Q762,593 762,577" stroke-width="1.6"/>
</g>
<g fill="#111">
 <circle cx="665" cy="542" r="2"/><circle cx="698" cy="542" r="2"/><circle cx="732" cy="542" r="2"/><circle cx="747" cy="542" r="2"/>
</g>
<g fill="#fff" stroke="#111" stroke-width="1.2">
 <circle cx="665" cy="557" r="2.5"/><circle cx="698" cy="557" r="2.5"/><circle cx="732" cy="557" r="2.5"/><circle cx="747" cy="557" r="2.5"/>
</g>
<g class="t" fill="#111" font-size="7">
 <text x="597" y="485" font-size="8">LDR</text><text x="646" y="484" font-size="8">I R</text>
 <text transform="translate(675,538) rotate(-90)">LIGHT SW.</text>
 <text transform="translate(694,538) rotate(-90)">SIDE SW.</text>
 <text transform="translate(727,538) rotate(-90)">FULL SW.</text>
 <text transform="translate(744,538) rotate(-90)">CLOSE SW.</text>
 <text x="707" y="614" text-anchor="middle" font-size="8" font-weight="bold">INDOOR</text>
 <text x="707" y="626" text-anchor="middle" font-size="8" font-weight="bold" textLength="70" lengthAdjust="spacingAndGlyphs">PUSH BUTTONS</text>
 <text x="707" y="639" text-anchor="middle" font-size="8">(Optional)</text>
</g>

<!-- 230VAC lamp connection -->
<text x="198" y="695" class="s" font-size="12" fill="#222" textLength="260" lengthAdjust="spacingAndGlyphs">** 230VAC LAMP connection as show as below:</text>
<rect x="196" y="704" width="564" height="124" fill="none" stroke="#555" stroke-width="1"/>
<path d="M471,704 V828" stroke="#777" stroke-width="1"/>
<g class="s" font-weight="bold" font-size="14" fill="#111">
 <text x="205" y="746">L</text><text x="204" y="803">N</text>
 <text x="486" y="745">L</text><text x="485" y="803">N</text>
</g>
<use href="#otimes" x="234" y="741"/><use href="#otimes" x="234" y="798"/>
<use href="#otimes" x="514" y="740"/><use href="#otimes" x="514" y="798"/>
<g fill="none" stroke="#111" stroke-width="2">
 <rect x="277" y="711" width="75" height="47" stroke="#777" stroke-width="1" stroke-dasharray="2,2"/>
 <path d="M243,741 H288"/>
 <path d="M293,738 L330,715" stroke-width="2.4"/>
 <path d="M341,737 H385 V766"/>
 <rect x="320" y="766" width="109" height="54" stroke-width="1.3"/>
 <path d="M243,798 H320"/>
 <path d="M523,740 H642"/>
 <rect x="642" y="716" width="106" height="54" stroke-width="1.3"/>
 <path d="M523,798 H568"/>
 <rect x="557" y="771" width="78" height="52" stroke="#777" stroke-width="1" stroke-dasharray="2,2"/>
 <path d="M574,794 L609,778" stroke-width="2.4"/>
 <path d="M623,798 H672"/>
 <path d="M672,798 H693 V770" stroke-dasharray="4,2"/>
</g>
<g fill="#fff" stroke="#111" stroke-width="2">
 <circle cx="292" cy="742" r="4.5"/><circle cx="336" cy="737" r="5"/>
 <circle cx="573" cy="798" r="5"/><circle cx="618" cy="798" r="5"/>
</g>
<use href="#bulb" x="347" y="793"/><use href="#bulb" x="672" y="746"/>
<g class="s" fill="#222">
 <text x="300" y="753" font-size="7">RELAY</text>
 <text x="372" y="799" font-size="12" textLength="48" lengthAdjust="spacingAndGlyphs">230VAC</text>
 <text x="381" y="812" font-size="12" textLength="36" lengthAdjust="spacingAndGlyphs">LAMP</text>
 <text x="698" y="750" font-size="12" textLength="46" lengthAdjust="spacingAndGlyphs">230VAC</text>
 <text x="712" y="764" font-size="12" textLength="30" lengthAdjust="spacingAndGlyphs">LAMP</text>
 <text x="580" y="815" font-size="7">RELAY</text>
</g>

<!-- Notes -->
<g class="t" fill="#111">
 <text x="198" y="849" font-size="13" font-weight="bold" textLength="514" lengthAdjust="spacingAndGlyphs">Note: each time the transformer is turned off, the battery is taken out, and the</text>
 <text x="198" y="866" font-size="13" font-weight="bold" textLength="482" lengthAdjust="spacingAndGlyphs">remote controller can be added or deleted within 1 minute after power on</text>
</g>
<g class="t" fill="#1a1a1a" font-size="12">
 <text x="201" y="897" textLength="140" lengthAdjust="spacingAndGlyphs">Add remote controller:</text>
 <text x="201" y="914" textLength="535" lengthAdjust="spacingAndGlyphs">After power on, press S1, the LED will flash, press any key on the remote controller, the</text>
 <text x="201" y="931" textLength="331" lengthAdjust="spacingAndGlyphs">LED will flash quickly, and the remote control is added</text>
 <text x="201" y="949" textLength="171" lengthAdjust="spacingAndGlyphs">To delete a remote control:</text>
 <text x="201" y="967" textLength="544" lengthAdjust="spacingAndGlyphs">After power on, press S1 and hold it. After the LED flashes for 3 times, all remote controls</text>
 <text x="201" y="984" textLength="69" lengthAdjust="spacingAndGlyphs">are deleted</text>
</g>

<!-- corner brand -->
<rect x="988" y="891" width="36" height="133" fill="#e31212"/>
<rect x="873" y="996" width="151" height="28" fill="#e31212"/>
<use href="#logo" x="873" y="867"/>
</svg>
</body></html>
